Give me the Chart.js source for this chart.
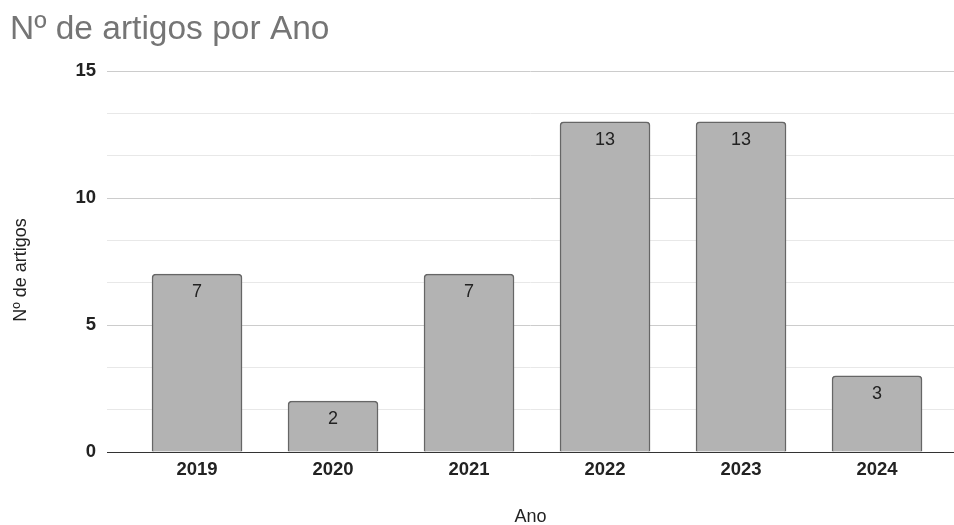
<!DOCTYPE html>
<html>
<head>
<meta charset="utf-8">
<script src="https://cdn.jsdelivr.net/npm/chart.js@4"></script>
<style>
  html, body { margin: 0; padding: 0; background: #fff; }
  #wrap { width: 954px; height: 525px; }
</style>
</head>
<body>
<div id="wrap"><canvas id="artigosChart"></canvas></div>
<script>
// dados
const anos = ["2019", "2020", "2021", "2022", "2023", "2024"];
const artigos = [7, 2, 7, 13, 13, 3];
const yTicks = [0, 5, 10, 15];
const yTitulo = "Nº de artigos";

const FONT = "'Liberation Sans', Arial, sans-serif";

const isMajor = v => Math.abs(v / 5 - Math.round(v / 5)) < 1e-6;

// rótulos dentro das barras + título do eixo Y
const barLabels = {
  id: "barLabels",
  afterDatasetsDraw(chart) {
    const ctx = chart.ctx;
    const meta = chart.getDatasetMeta(0);
    ctx.save();
    ctx.font = "18px " + FONT;
    ctx.fillStyle = "#222";
    ctx.textAlign = "center";
    ctx.textBaseline = "middle";
    meta.data.forEach((bar, i) => {
      ctx.fillText(String(artigos[i]), bar.x, bar.y + 18);
    });

    // título do eixo Y, um pouco abaixo do centro como no original
    ctx.translate(21, 270);
    ctx.rotate(-Math.PI / 2);
    ctx.fillText(yTitulo, 0, 0);
    ctx.restore();
  }
};

const ctx = document.getElementById("artigosChart");

new Chart(ctx, {
  type: "bar",
  data: {
    datasets: [{
      label: yTitulo,
      data: artigos.map((v, i) => ({ x: i, y: v })),
      backgroundColor: "#b3b3b3",
      borderColor: "#666",
      borderWidth: 1.5,
      borderRadius: { topLeft: 4, topRight: 4 },
      borderSkipped: "bottom",
      barThickness: 90
    }]
  },
  options: {
    responsive: true,
    maintainAspectRatio: false,
    animation: false,
    layout: { padding: { left: 10, right: 0, top: 10, bottom: 0 } },
    plugins: {
      legend: { display: false },
      tooltip: { enabled: false },
      title: {
        display: true,
        text: "Nº de artigos por Ano",
        align: "start",
        color: "#757575",
        font: { family: FONT, size: 33.5, weight: "normal" },
        padding: { top: 0, bottom: 20.8 }
      }
    },
    scales: {
      x: {
        type: "linear",
        offset: false,
        min: -0.662,
        max: 5.566,
        afterBuildTicks: s => { s.ticks = anos.map((_, i) => ({ value: i })); },
        afterFit: s => { s.height = 73; },
        grid: { display: false, drawTicks: false },
        border: { display: true, color: "#333", width: 1 },
        ticks: {
          padding: 7,
          color: "#222",
          font: { family: FONT, size: 18.5, weight: "bold" },
          callback: v => anos[v] ?? ""
        },
        title: {
          display: true,
          text: "Ano",
          color: "#222",
          font: { family: FONT, size: 18 },
          padding: { top: 0, bottom: -3 }
        }
      },
      y: {
        min: 0,
        max: 15,
        afterBuildTicks: s => {
          const t = [];
          for (let k = 0; k <= 9; k++) t.push({ value: k * 5 / 3 });
          s.ticks = t;
        },
        afterFit: s => { s.width = 97; },
        grid: {
          drawTicks: false,
          color: c => {
            const v = c.tick ? c.tick.value : 0;
            if (Math.abs(v) < 1e-6) return "#333";
            return isMajor(v) ? "#cccccc" : "#e8e8e8";
          }
        },
        border: { display: false },
        ticks: {
          padding: 11,
          color: "#222",
          font: { family: FONT, size: 18.5, weight: "bold" },
          callback: v => (isMajor(v) && yTicks.includes(Math.round(v))) ? String(Math.round(v)) : ""
        },
        title: { display: false }
      }
    }
  },
  plugins: [barLabels]
});
</script>
</body>
</html>
